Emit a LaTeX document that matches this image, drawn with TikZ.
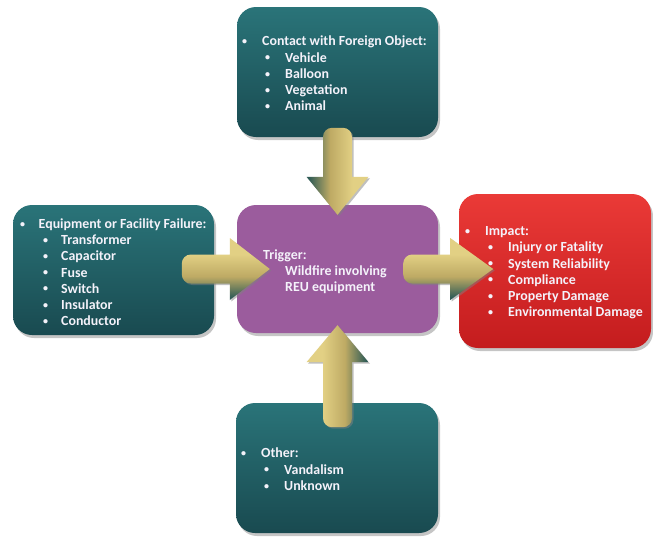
\documentclass[tikz,border=0pt]{standalone}
\usepackage{fontspec}
\setmainfont{Carlito}
\usetikzlibrary{shadows,calc}
\definecolor{tealtop}{RGB}{42,116,121}
\definecolor{tealbot}{RGB}{25,74,80}
\definecolor{purp}{RGB}{155,92,157}
\definecolor{redtop}{RGB}{234,58,55}
\definecolor{redbot}{RGB}{196,28,30}
\definecolor{goldL}{RGB}{226,208,132}
\definecolor{goldM}{RGB}{190,170,100}
\definecolor{goldD}{RGB}{48,92,86}
\definecolor{txt}{RGB}{244,242,250}
\pgfdeclareverticalshading{goldshade}{100bp}{color(0bp)=(goldD); color(27bp)=(goldD); color(44bp)=(goldM); color(62bp)=(goldL); color(100bp)=(goldL)}
\newcommand\bdot{\raisebox{0.2ex}{\scalebox{0.72}{\textbullet}}}
\newcommand\blt{\makebox[20pt][l]{\bdot}}
\newcommand\sbl{\hspace*{23pt}\makebox[20pt][l]{\bdot}}
\newcommand\blkarrow[5]{%
  \path[arrowshade, shading angle=#5, shift={(#1)}, rotate=#2]
    (0,0) -- (-#4,31) -- (-#4,14.5) [rounded corners=9pt] -- (-#3,14.5) -- (-#3,-14.5) [sharp corners] -- (-#4,-14.5) -- (-#4,-31) -- cycle;}
\begin{document}
\begin{tikzpicture}[x=1pt,y=-1pt,
  box/.style={rectangle, rounded corners=19pt, inner sep=0pt,
    drop shadow={shadow xshift=2pt, shadow yshift=-3pt, opacity=0.45}},
  tealbox/.style={box, top color=tealtop, bottom color=tealbot},
  purpbox/.style={box, fill=purp},
  redbox/.style={box, top color=redtop, bottom color=redbot},
  arrowshade/.style={shading=goldshade,
    drop shadow={shadow xshift=1.5pt, shadow yshift=-1.5pt, opacity=0.5}},
  lbl/.style={inner sep=0pt, anchor=north west, align=left, text=txt,
    font=\bfseries\fontsize{13.9}{16.2}\selectfont},
]
\useasboundingbox (0,0) rectangle (653,536);
\fill[white] (0,0) rectangle (653,536);

\node[tealbox, minimum width=201pt, minimum height=130pt] (top) at (337.5,72) {};
\node[tealbox, minimum width=201pt, minimum height=130pt] (left) at (113.5,270) {};
\node[purpbox, minimum width=201pt, minimum height=128pt] (center) at (337.5,269) {};
\node[redbox, minimum width=192pt, minimum height=154pt] (impact) at (555,271) {};
\node[tealbox, minimum width=202pt, minimum height=130pt] (bottom) at (337,468) {};

\coordinate (tipL) at ([xshift=33pt]center.west);
\coordinate (tipR) at ([xshift=55pt]center.east);
\coordinate (tipD) at ([yshift=-10pt]center.north);
\coordinate (tipU) at ([yshift=8pt]center.south);
\blkarrow{tipL}{0}{88}{40}{0}
\blkarrow{tipR}{0}{90}{43}{0}
\blkarrow{tipD}{-90}{87}{38}{-90}
\blkarrow{tipU}{90}{102}{37}{90}

\node[lbl] (ttop) at (242,36) {\blt Contact with Foreign Object:\\
  \sbl Vehicle\\ \sbl Balloon\\ \sbl Vegetation\\ \sbl Animal};
\node[lbl] (tleft) at (20,218.5) {\makebox[18.5pt][l]{\bdot}Equipment or Facility Failure:\\
  \hspace*{23pt}\makebox[18pt][l]{\bdot}Transformer\\ \hspace*{23pt}\makebox[18pt][l]{\bdot}Capacitor\\ \hspace*{23pt}\makebox[18pt][l]{\bdot}Fuse\\ \hspace*{23pt}\makebox[18pt][l]{\bdot}Switch\\ \hspace*{23pt}\makebox[18pt][l]{\bdot}Insulator\\ \hspace*{23pt}\makebox[18pt][l]{\bdot}Conductor};
\node[lbl] (tcenter) at (263,249.5) {Trigger:\\ \hspace*{22pt}Wildfire involving\\ \hspace*{22pt}REU equipment};
\node[lbl] (timpact) at (465,226.5) {\blt Impact:\\
  \sbl Injury or Fatality\\ \sbl System Reliability\\ \sbl Compliance\\ \sbl Property Damage\\ \sbl Environmental Damage};
\node[lbl] (tbottom) at (241,448) {\blt Other:\\ \sbl Vandalism\\ \sbl Unknown};
\end{tikzpicture}
\end{document}
